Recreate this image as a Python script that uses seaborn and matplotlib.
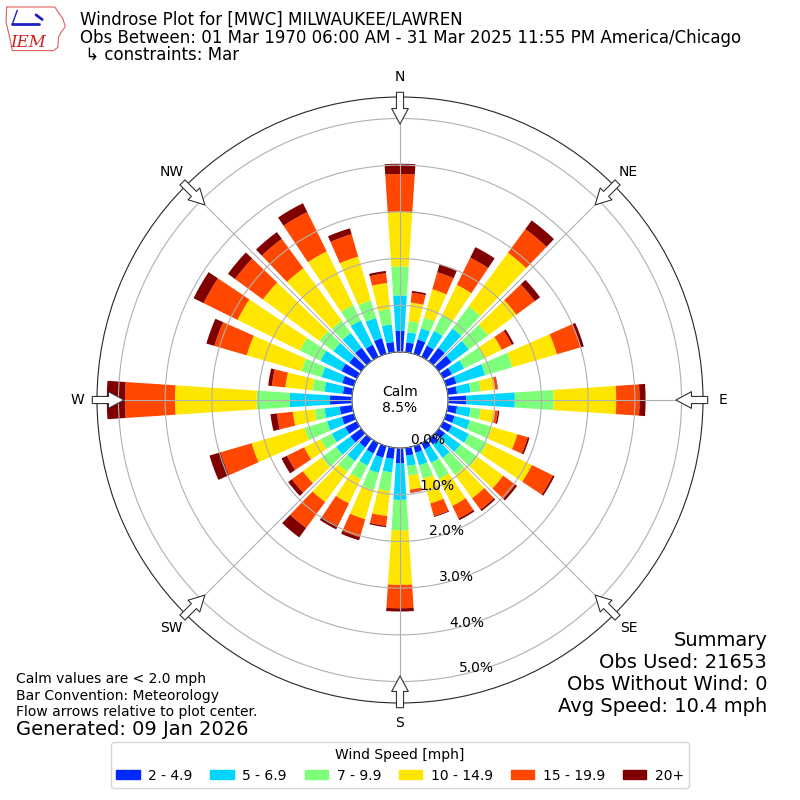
import numpy as np
import matplotlib
matplotlib.use("Agg")
import matplotlib.pyplot as plt
import matplotlib.patches as mpatches
import seaborn as sns

sns.set_style("white")
plt.rcParams['font.family'] = ['DejaVu Sans']
plt.rcParams['text.color'] = 'black'
plt.rcParams['ytick.color'] = 'black'

# wind directions (deg, meteorological) and speed bins
directions = np.arange(0, 360, 10)
speed_labels = ["2 - 4.9", "5 - 6.9", "7 - 9.9", "10 - 14.9", "15 - 19.9", "20+"]

# percent of observations per direction, one list per speed bin
spd_2_5 = [0.45, 0.21, 0.32, 0.27, 0.36, 0.34, 0.21, 0.23, 0.20, 0.39, 0.20, 0.19,
           0.21, 0.17, 0.15, 0.15, 0.15, 0.17, 0.33, 0.24, 0.26, 0.25, 0.23, 0.29,
           0.28, 0.27, 0.27, 0.47, 0.20, 0.26, 0.37, 0.32, 0.36, 0.29, 0.35, 0.22]
spd_5_7 = [0.76, 0.22, 0.25, 0.35, 0.51, 0.46, 0.29, 0.64, 0.29, 1.04, 0.29, 0.34,
           0.41, 0.41, 0.36, 0.32, 0.28, 0.22, 0.78, 0.29, 0.34, 0.29, 0.37, 0.38,
           0.32, 0.33, 0.33, 0.86, 0.40, 0.46, 0.50, 0.42, 0.39, 0.58, 0.45, 0.38]
spd_7_10 = [0.62, 0.24, 0.24, 0.38, 0.59, 0.51, 0.49, 0.61, 0.22, 0.83, 0.22, 0.49,
            0.43, 0.45, 0.45, 0.39, 0.30, 0.21, 0.65, 0.40, 0.38, 0.33, 0.28, 0.38,
            0.27, 0.50, 0.21, 0.71, 0.26, 0.45, 0.49, 0.37, 0.33, 0.37, 0.39, 0.33]
spd_10_15 = [1.17, 0.40, 0.63, 0.72, 1.42, 0.75, 0.41, 0.99, 0.31, 1.34, 0.31, 0.57,
             1.07, 0.68, 0.62, 0.64, 0.55, 0.30, 1.17, 0.54, 0.65, 0.57, 0.80, 0.50,
             0.39, 1.18, 0.47, 1.75, 0.58, 1.22, 1.49, 1.50, 1.39, 1.28, 0.98, 0.56]
spd_15_20 = [0.81, 0.21, 0.38, 0.65, 0.63, 0.49, 0.24, 0.53, 0.05, 0.50, 0.06, 0.23,
             0.50, 0.32, 0.30, 0.30, 0.28, 0.06, 0.50, 0.21, 0.40, 0.54, 0.69, 0.29,
             0.41, 0.69, 0.34, 1.07, 0.29, 0.72, 0.81, 0.74, 0.78, 0.94, 0.50, 0.21]
spd_20_up = [0.22, 0.04, 0.17, 0.25, 0.23, 0.14, 0.05, 0.07, 0.01, 0.13, 0.03, 0.04,
             0.04, 0.05, 0.04, 0.04, 0.02, 0.01, 0.07, 0.03, 0.07, 0.08, 0.25, 0.10,
             0.13, 0.25, 0.14, 0.39, 0.08, 0.18, 0.24, 0.19, 0.18, 0.21, 0.13, 0.05]
speed_series = [spd_2_5, spd_5_7, spd_7_10, spd_10_15, spd_15_20, spd_20_up]

calm_pct = 8.5
rticks = [0, 1, 2, 3, 4, 5]
rtick_labels = ["0.0%", "1.0%", "2.0%", "3.0%", "4.0%", "5.0%"]
compass = ["N", "NE", "E", "SE", "S", "SW", "W", "NW"]
compass_deg = np.arange(0, 360, 45)

colors = plt.get_cmap("jet")(np.linspace(0, 1, 7)[1:])

fig = plt.figure(figsize=(8, 8), dpi=100)
ax = fig.add_axes([0.12125, 0.12125, 0.7575, 0.7575], projection="polar")
ax.set_theta_zero_location("N")
ax.set_theta_direction(-1)

theta = np.deg2rad(directions)
width = np.deg2rad(7.5)
bottom = np.zeros(len(directions))
handles = []
for vals, col, lab in zip(speed_series, colors, speed_labels):
    ax.bar(theta, vals, width=width, bottom=bottom, color=col, linewidth=0, zorder=2)
    bottom = bottom + np.array(vals)
    handles.append(mpatches.Patch(color=col, label=lab))

ax.set_rorigin(-1.03)
ax.set_ylim(0, 5.46)
ax.set_axisbelow(False)
ax.grid(True, color="#b0b0b0", linewidth=0.8, zorder=3)
ax.set_thetagrids(compass_deg, labels=[""] * len(compass_deg))
ax.set_rgrids(rticks, labels=rtick_labels, angle=168, fontsize=10)
for lab in ax.get_yticklabels():
    lab.set_zorder(5)
    lab.set_color("black")

# compass labels and inward flow arrows
for d, name in zip(compass_deg, compass):
    t = np.deg2rad(d)
    ax.text(t, 5.89, name, ha="center", va="center", fontsize=10, clip_on=False)
    ax.annotate("", xy=(t, 4.88), xytext=(t, 5.56), annotation_clip=False,
                arrowprops=dict(arrowstyle="simple,head_length=0.7,head_width=0.75,tail_width=0.32",
                                mutation_scale=16, fc="white", ec="#333333", lw=0.8,
                                shrinkA=0, shrinkB=0), zorder=6)

ax.text(0.5, 0.5, f"Calm\n{calm_pct}%", transform=ax.transAxes,
        ha="center", va="center", fontsize=10)

# header
fig.text(0.1, 0.975, "Windrose Plot for [MWC] MILWAUKEE/LAWREN", fontsize=12, va="center")
fig.text(0.1, 0.953, "Obs Between: 01 Mar 1970 06:00 AM - 31 Mar 2025 11:55 PM America/Chicago",
         fontsize=12, va="center")
fig.text(0.1, 0.931, " \u21b3 constraints: Mar", fontsize=12, va="center")

# logo
lax = fig.add_axes([0.006, 0.935, 0.078, 0.058])
lax.set_xlim(0, 1)
lax.set_ylim(0, 1)
lax.axis("off")
outline_x = [0.03, 0.80, 0.86, 0.93, 0.97, 0.90, 0.86, 0.85, 0.78, 0.12, 0.08, 0.02, 0.03]
outline_y = [0.97, 0.97, 0.85, 0.72, 0.55, 0.42, 0.32, 0.10, 0.03, 0.03, 0.30, 0.65, 0.97]
lax.plot(outline_x, outline_y, color="#e06060", lw=0.8)
lax.plot([0.12, 0.55], [0.6, 0.6], color="#2020c0", lw=2)
lax.plot([0.12, 0.2], [0.6, 0.9], color="#2020c0", lw=1)
lax.plot([0.5, 0.6], [0.8, 0.7], color="#2020c0", lw=2)
lax.text(0.38, 0.2, "IEM", color="#d02020", fontsize=12, style="italic",
         family="DejaVu Serif", ha="center", va="center")

# footer
fig.text(0.02, 0.151, "Calm values are < 2.0 mph", fontsize=10, va="center")
fig.text(0.02, 0.130, "Bar Convention: Meteorology", fontsize=10, va="center")
fig.text(0.02, 0.110, "Flow arrows relative to plot center.", fontsize=10, va="center")
fig.text(0.02, 0.088, "Generated: 09 Jan 2026", fontsize=14, va="center")

summary = ["Summary", "Obs Used: 21653", "Obs Without Wind: 0", "Avg Speed: 10.4 mph"]
for i, s in enumerate(summary):
    fig.text(0.959, 0.2 - i * 0.0275, s, fontsize=14, ha="right", va="center")

fig.legend(handles=handles, loc="lower center", bbox_to_anchor=(0.5, 0.006), ncol=6,
           title="Wind Speed [mph]", fontsize=10, title_fontsize=10,
           handlelength=1.7, handleheight=0.6, handletextpad=0.6, columnspacing=1.28)

fig.savefig("out.png", dpi=100)
